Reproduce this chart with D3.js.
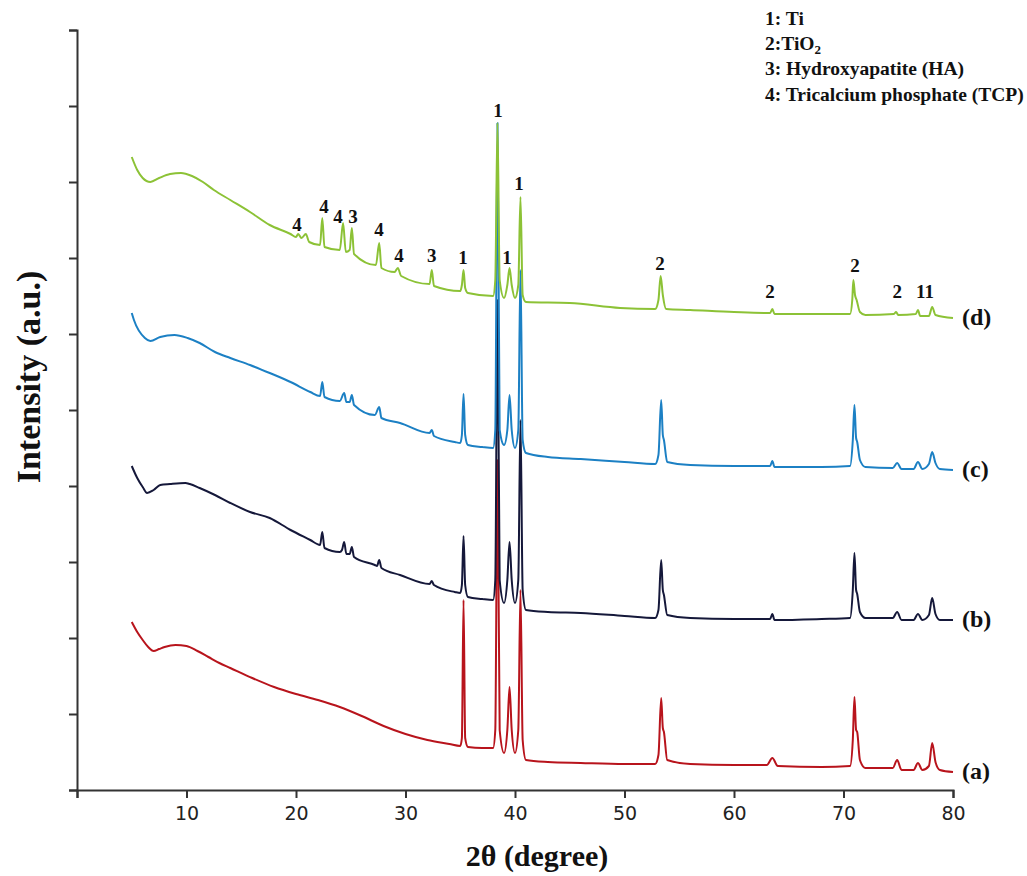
<!DOCTYPE html>
<html>
<head>
<meta charset="utf-8">
<script src="https://cdn.jsdelivr.net/npm/d3@7"></script>
<style>
  body { margin: 0; background: #fff; }
  .axis path, .axis line { stroke: #333; stroke-width: 2; }
  .axis text { font-family: "DejaVu Sans", sans-serif; font-size: 19px; fill: #222; }
  .serif { font-family: "Liberation Serif", "Times New Roman", serif; font-weight: bold; fill: #111; }
</style>
</head>
<body>
<svg id="chart" width="1027" height="876"></svg>
<script>
// =============================
// XRD patterns (a)-(d)
// =============================

// 2θ / intensity pairs (intensity in arbitrary units)
const traceA = [
	[5.0,168],[5.5,158],[6.0,150],[6.5,143],[7.0,139],[7.5,141],[8.0,143],[9.0,145],[10.0,144],
	[11.0,139],[12.0,133],[13.0,127],[14.0,122],[16.0,112],[18.0,103],[20.0,96],[22.0,90],
	[24.0,83],[26.0,74],[28.0,64],[30.0,56],[32.0,50],[34.0,46],[35.0,44],[35.15,52],[35.3,190],
	[35.45,52],[35.7,43],[37.0,42],[38.0,42],[38.2,60],[38.4,330],[38.6,60],[39.0,37],[39.3,60],
	[39.5,103],[39.7,60],[40.0,37],[40.3,60],[40.5,200],[40.7,50],[41.0,30],[43.0,28],[46.0,27],
	[50.0,26],[52.8,26],[53.1,35],[53.35,92],[53.5,62],[53.6,58],[53.9,30],[56.0,26],[60.0,25],
	[63.0,25],[63.5,32],[64.0,24],[68.0,23],[70.6,24],[70.85,50],[71.0,93],[71.15,60],[71.25,58],
	[71.5,30],[72.0,22],[74.5,22],[74.9,30],[75.3,20],[76.4,20],[76.8,27],[77.2,20],[77.8,24],
	[78.1,47],[78.4,28],[78.8,20],[80.0,18]
];

const traceB = [
	[5.0,324],[5.5,312],[6.0,303],[6.4,297],[7.0,300],[7.6,305],[8.5,306],[9.9,307],[10.3,306],
	[11.2,302],[12.6,295],[14.0,287],[15.8,278],[17.6,272],[19.5,260],[21.3,250],[22.2,245],
	[22.4,258],[22.6,242],[24.0,238],[24.2,240],[24.4,248],[24.6,236],[24.9,236],[25.1,243],
	[25.3,233],[27.2,225],[27.4,224],[27.6,230],[27.8,222],[29.5,215],[32.2,206],[32.4,209],
	[32.6,205],[34.5,198],[35.0,197],[35.15,205],[35.3,254],[35.45,205],[35.7,193],[37.0,191],
	[38.0,190],[38.2,210],[38.4,490],[38.6,210],[39.0,187],[39.3,210],[39.5,248],[39.7,210],
	[40.0,187],[40.3,210],[40.5,370],[40.7,200],[41.0,180],[43.0,178],[46.0,177],[50.0,174],
	[52.8,172],[53.1,180],[53.35,230],[53.5,200],[53.6,195],[53.9,175],[56.0,172],[60.0,171],
	[63.3,171],[63.5,176],[63.7,170],[68.0,171],[70.6,172],[70.85,200],[71.0,237],[71.15,200],
	[71.25,196],[71.5,178],[72.0,172],[74.5,172],[74.9,178],[75.3,170],[76.4,170],[76.8,176],
	[77.2,170],[77.8,175],[78.1,192],[78.4,176],[78.8,170],[80.0,170]
];

const traceC = [
	[5.0,477],[5.2,470],[6.2,452],[6.7,449],[7.6,453],[8.9,455],[10.1,452],[11.2,447],[12.6,438],
	[14.0,432],[15.8,425],[17.6,417],[19.5,408],[21.3,398],[22.2,394],[22.4,408],[22.6,393],
	[24.0,389],[24.4,397],[24.6,388],[24.9,388],[25.1,395],[25.3,385],[27.2,375],[27.6,383],
	[27.8,372],[29.5,367],[32.2,357],[32.4,360],[32.6,354],[34.5,348],[35.0,347],[35.15,355],
	[35.3,396],[35.45,355],[35.7,345],[37.0,343],[38.0,342],[38.2,360],[38.4,667],[38.6,360],
	[39.0,345],[39.3,360],[39.5,395],[39.7,360],[40.0,342],[40.3,360],[40.5,520],[40.7,350],
	[41.0,337],[43.0,333],[46.0,331],[50.0,328],[52.8,326],[53.1,335],[53.35,390],[53.5,355],
	[53.6,350],[53.9,328],[56.0,325],[60.0,324],[63.3,324],[63.5,329],[63.7,323],[68.0,323],
	[70.6,324],[70.85,350],[71.0,385],[71.15,352],[71.25,348],[71.5,330],[72.0,323],[74.5,322],
	[74.9,327],[75.3,321],[76.4,321],[76.8,328],[77.2,321],[77.8,326],[78.1,338],[78.4,327],
	[78.8,321],[80.0,320]
];

const traceD = [
	[5.0,633],[5.5,620],[6.0,612],[6.7,608],[7.5,612],[8.5,616],[9.5,617],[10.5,614],[11.5,608],
	[12.5,600],[14.0,590],[15.8,578],[17.6,565],[19.5,556],[20.0,553],[20.2,556],[20.5,552],
	[20.9,556],[21.2,548],[22.2,545],[22.4,572],[22.6,543],[24.0,540],[24.3,567],[24.55,538],
	[24.9,540],[25.1,562],[25.3,536],[27.3,525],[27.6,547],[27.8,522],[29.0,518],[29.3,522],
	[29.6,514],[32.2,506],[32.4,520],[32.6,504],[35.0,499],[35.15,505],[35.3,520],[35.45,502],
	[35.7,497],[38.0,494],[38.2,510],[38.4,667],[38.6,510],[39.0,492],[39.3,505],[39.5,522],
	[39.7,505],[40.0,492],[40.3,505],[40.5,593],[40.7,495],[41.0,488],[45.0,487],[49.6,482],
	[52.8,481],[53.1,490],[53.3,514],[53.5,495],[53.8,481],[56.0,480],[60.0,478],[63.3,477],
	[63.5,481],[63.7,476],[68.0,476],[70.6,476],[70.8,490],[70.9,510],[71.05,495],[71.2,490],
	[71.5,478],[72.0,475],[74.6,476],[74.8,478],[75.0,475],[76.6,476],[76.8,480],[77.0,474],
	[77.8,474],[78.1,483],[78.4,475],[80.0,472]
];

const traces = [traceA, traceB, traceC, traceD];
const traceNames = ["(a)", "(b)", "(c)", "(d)"];
const traceColors = ["#b8141c", "#15183a", "#1c80c4", "#8cc236"];

// Phase markers above pattern (d)
const markLabels = ["4","4","4","3","4","4","3","1","1","1","1","2","2","2","2","11"];
const markX = [20.1,22.56,23.84,25.2,27.58,29.4,32.4,35.25,38.45,39.27,40.37,53.24,63.29,71.05,74.9,77.44];
const markY = [559,577,567,567,554,528,528,526,673,526,600,520,492,518,492,492];

const legendLines = ["1: Ti", "2:TiO", "3: Hydroxyapatite (HA)", "4: Tricalcium phosphate (TCP)"];

const xTicks = [0,10,20,30,40,50,60,70,80];
const yTicks = d3.range(0, 761, 76);

const svg = d3.select("#chart");

const x = d3.scaleLinear().domain([0, 80]).range([77, 953]);
const y = d3.scaleLinear().domain([0, 760]).range([790, 30]);

// Axes
svg.append("g")
	.attr("class", "axis")
	.attr("transform", "translate(0,790)")
	.call(d3.axisBottom(x).tickValues(xTicks).tickSize(8).tickPadding(9)
		.tickFormat(d => d === 0 ? "" : d));

svg.append("g")
	.attr("class", "axis")
	.attr("transform", "translate(77,0)")
	.call(d3.axisLeft(y).tickValues(yTicks).tickSize(8).tickFormat(""));

// Patterns
const line = d3.line()
	.x(d => x(d[0]))
	.y(d => y(d[1]))
	.curve(d3.curveMonotoneX);

svg.append("g").selectAll("path")
	.data(traces)
	.enter()
	.append("path")
	.attr("d", line)
	.attr("fill", "none")
	.attr("stroke", (d, i) => traceColors[i])
	.attr("stroke-width", 2)
	.attr("stroke-linejoin", "round");

// Pattern names at the right end
svg.selectAll(".name")
	.data(traces)
	.enter()
	.append("text")
	.attr("class", "serif")
	.attr("x", 962)
	.attr("y", d => y(d[d.length - 1][1]) + 7)
	.style("font-size", "24px")
	.text((d, i) => traceNames[i]);

// Peak markers
svg.selectAll(".mark")
	.data(markLabels)
	.enter()
	.append("text")
	.attr("class", "serif")
	.attr("x", (d, i) => x(markX[i]))
	.attr("y", (d, i) => y(markY[i]))
	.style("font-size", "19px")
	.style("text-anchor", "middle")
	.text(d => d);

// Legend
const legendY = [25, 50, 75, 101];
const legend = svg.selectAll(".legend")
	.data(legendLines)
	.enter()
	.append("text")
	.attr("class", "serif")
	.attr("x", 765)
	.attr("y", (d, i) => legendY[i])
	.style("font-size", "19.5px")
	.text(d => d);
legend.filter((d, i) => i === 1)
	.append("tspan")
	.attr("dy", 4)
	.style("font-size", "13px")
	.text("2");

// Axis titles
svg.append("text")
	.attr("class", "serif")
	.attr("x", 537)
	.attr("y", 866)
	.style("font-size", "30px")
	.style("text-anchor", "middle")
	.text("2θ (degree)");

svg.append("text")
	.attr("class", "serif")
	.attr("transform", "translate(40,377) rotate(-90)")
	.style("font-size", "34px")
	.style("text-anchor", "middle")
	.text("Intensity (a.u.)");
</script>
</body>
</html>
